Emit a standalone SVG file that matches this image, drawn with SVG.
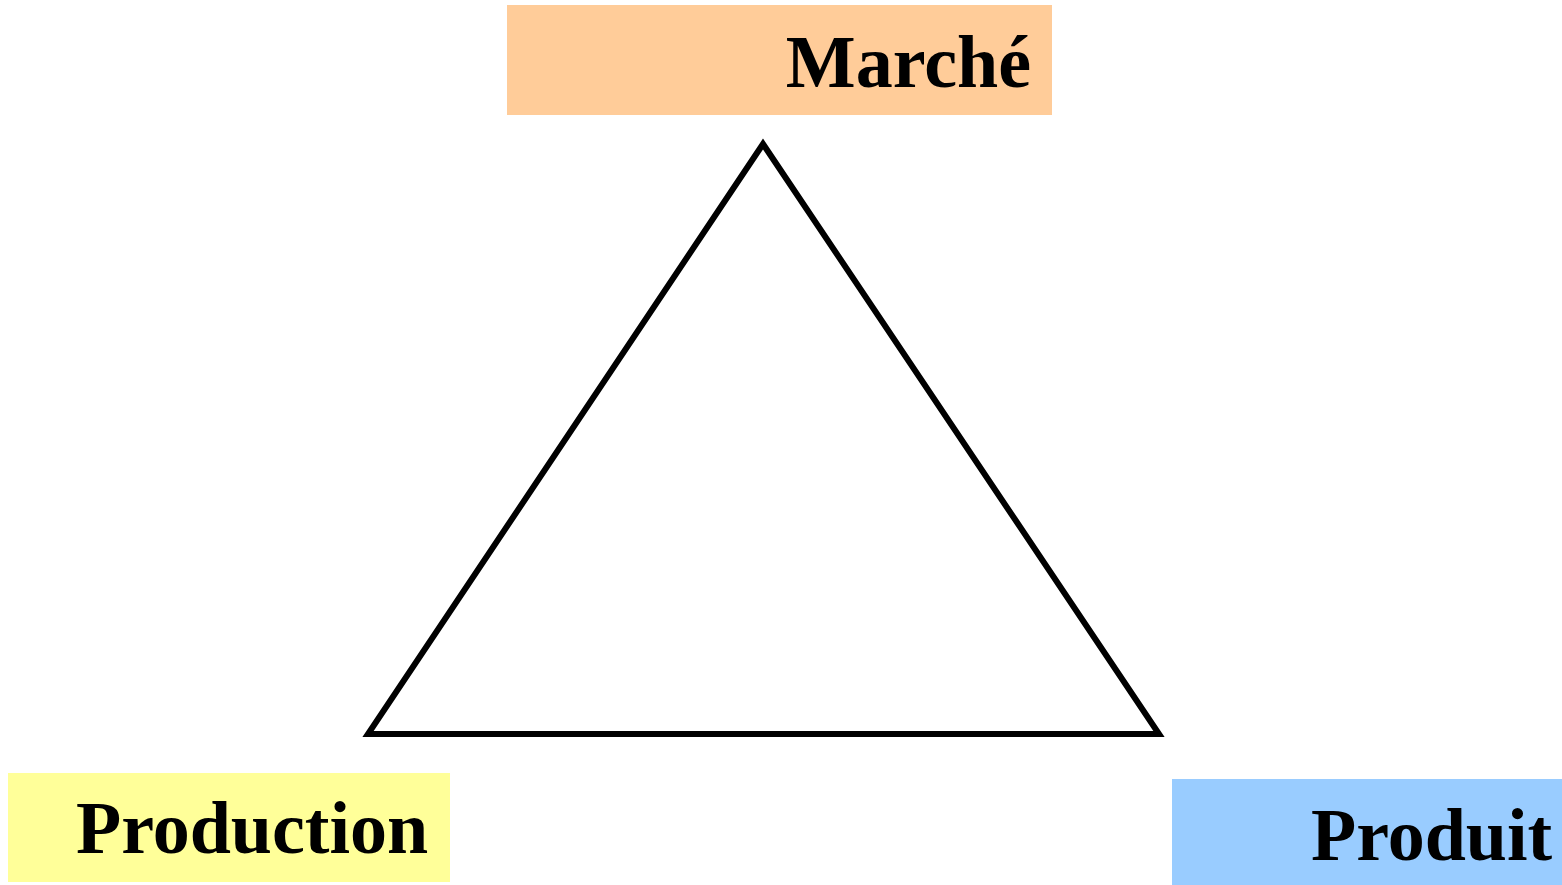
<svg xmlns="http://www.w3.org/2000/svg" width="1562" height="885" viewBox="0 0 1562 885">
<style>
.lbl{font-family:"Liberation Serif","Times New Roman",serif;font-weight:bold;font-size:74px;fill:#000}
</style>
<rect width="1562" height="885" fill="#fff"/>
<g id="connectors">
<polygon points="763,144 368,734 1159,734" fill="none" stroke="#000" stroke-width="6" stroke-linejoin="miter"/>
</g>
<g id="marche">
<rect x="507" y="5" width="545" height="110" fill="#FFCC99"/>
<text class="lbl" x="1031" y="87" text-anchor="end">Marché</text>
</g>
<g id="production">
<rect x="8" y="773" width="442" height="109" fill="#FFFF99"/>
<text class="lbl" x="76" y="853">Production</text>
</g>
<g id="produit">
<rect x="1172" y="779" width="390" height="106" fill="#99CCFF"/>
<text class="lbl" x="1311" y="860">Produit</text>
</g>
</svg>
